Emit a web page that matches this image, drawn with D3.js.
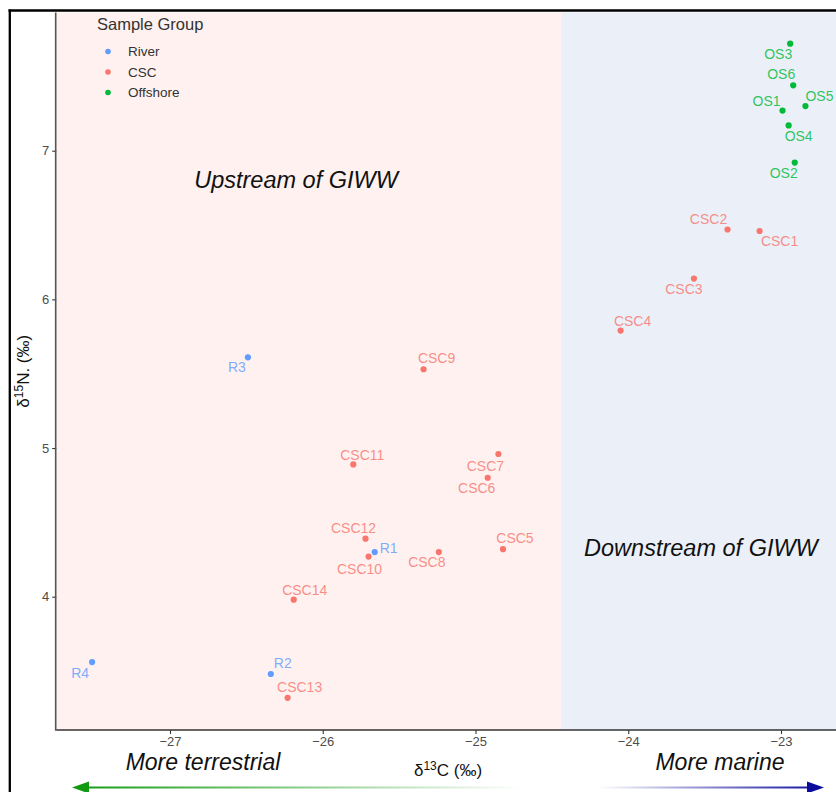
<!DOCTYPE html>
<html>
<head>
<meta charset="utf-8">
<script src="https://cdn.jsdelivr.net/npm/d3@7"></script>
<style>
  body { margin: 0; background: #fff; }
  svg { display: block; font-family: "Liberation Sans", Arial, sans-serif; }
</style>
</head>
<body>
<svg id="chart" width="836" height="792"></svg>
<script>
// sample data
var groups = ["River", "CSC", "Offshore"];
var groupColors = ["#619CFF", "#F8766D", "#00BA38"];

var sampleNames = ["R1", "R2", "R3", "R4",
  "CSC1", "CSC2", "CSC3", "CSC4", "CSC5", "CSC6", "CSC7", "CSC8", "CSC9", "CSC10", "CSC11", "CSC12", "CSC13", "CSC14",
  "OS1", "OS2", "OS3", "OS4", "OS5", "OS6"];
var sampleGroup = ["River", "River", "River", "River",
  "CSC", "CSC", "CSC", "CSC", "CSC", "CSC", "CSC", "CSC", "CSC", "CSC", "CSC", "CSC", "CSC", "CSC",
  "Offshore", "Offshore", "Offshore", "Offshore", "Offshore", "Offshore"];
var d13C = [-25.66, -26.34, -26.49, -27.51,
  -23.14, -23.35, -23.57, -24.05, -24.82, -24.92, -24.85, -25.24, -25.34, -25.70, -25.80, -25.72, -26.23, -26.19,
  -22.99, -22.91, -22.94, -22.95, -22.84, -22.92];
var d15N = [4.30, 3.48, 5.61, 3.56,
  6.46, 6.47, 6.14, 5.79, 4.32, 4.80, 4.96, 4.30, 5.53, 4.27, 4.89, 4.39, 3.32, 3.98,
  7.27, 6.92, 7.72, 7.17, 7.30, 7.44];

var xTicks = [-27, -26, -25, -24, -23];
var yTicks = [4, 5, 6, 7];
var xLimits = [-27.745, -22.6];
var yLimits = [3.103, 7.93];
var giwwSplit = -24.44;

// where the repelled labels ended up, relative to the point (px)
var labelNudge = {
  R1: [14, -4], R2: [12, -11], R3: [-11, 10], R4: [-12, 11],
  CSC1: [20, 10], CSC2: [-19, -10], CSC3: [-10, 10], CSC4: [12, -10], CSC5: [12, -11],
  CSC6: [-11, 10], CSC7: [-13, 12], CSC8: [-12, 10], CSC9: [13, -11], CSC10: [-9, 12],
  CSC11: [9, -9], CSC12: [-12, -11], CSC13: [12, -11], CSC14: [11, -10],
  OS1: [-16, -10], OS2: [-11, 10], OS3: [-12, 10], OS4: [10, 11], OS5: [14, -10], OS6: [-12, -11]
};

var samples = sampleNames.map(function(n, i){
  return { name: n, group: sampleGroup[i], c: d13C[i], n: d15N[i] };
});

var svg = d3.select("#chart");

var x = d3.scaleLinear().domain([-27, -23]).range([170, 781]);
var y = d3.scaleLinear().domain([4, 7]).range([596.7, 150.7]);
var color = d3.scaleOrdinal().domain(groups).range(groupColors);

var pLeft = x(xLimits[0]), pRight = x(xLimits[1]);
var pTop = y(yLimits[1]), pBottom = y(yLimits[0]);

// shaded regions
svg.append("rect")
  .attr("x", pLeft).attr("y", pTop)
  .attr("width", x(giwwSplit) - pLeft).attr("height", pBottom - pTop)
  .style("fill", "#FEF1F0");
svg.append("rect")
  .attr("x", x(giwwSplit)).attr("y", pTop)
  .attr("width", pRight - x(giwwSplit)).attr("height", pBottom - pTop)
  .style("fill", "#EBEFF8");

// region labels
svg.append("text")
  .attr("x", x(-26.175)).attr("y", 188)
  .attr("text-anchor", "middle")
  .attr("font-size", "23.5px").attr("font-style", "italic")
  .style("fill", "#111")
  .text("Upstream of GIWW");
svg.append("text")
  .attr("x", x(-23.524)).attr("y", 556)
  .attr("text-anchor", "middle")
  .attr("font-size", "23.5px").attr("font-style", "italic")
  .style("fill", "#111")
  .text("Downstream of GIWW");

// axes
var xAxis = svg.append("g")
  .attr("transform", "translate(0," + pBottom + ")")
  .call(d3.axisBottom(x).tickValues(xTicks).tickSize(4).tickPadding(3)
    .tickFormat(function(d){ return d3.format("d")(d).replace("-", "\u2212"); }));
xAxis.select(".domain").remove();
xAxis.selectAll("line").style("stroke", "#333").style("stroke-width", 1.1);
xAxis.selectAll("text").attr("font-size", "13px").style("fill", "#4d4d4d")
  .attr("font-family", "Liberation Sans, Arial, sans-serif");

var yAxis = svg.append("g")
  .attr("transform", "translate(" + pLeft + ",0)")
  .call(d3.axisLeft(y).tickValues(yTicks).tickSize(4).tickPadding(3).tickFormat(d3.format("d")));
yAxis.select(".domain").remove();
yAxis.selectAll("line").style("stroke", "#333").style("stroke-width", 1.1);
yAxis.selectAll("text").attr("font-size", "13px").style("fill", "#4d4d4d")
  .attr("font-family", "Liberation Sans, Arial, sans-serif");

svg.append("line")
  .attr("x1", pLeft).attr("x2", 836).attr("y1", pBottom).attr("y2", pBottom)
  .style("stroke", "#333").style("stroke-width", 1.4);
svg.append("line")
  .attr("x1", pLeft - 0.5).attr("x2", pLeft - 0.5).attr("y1", pTop).attr("y2", pBottom + 0.7)
  .style("stroke", "#555").style("stroke-width", 1.6);

// points and labels
var pts = svg.append("g");
pts.selectAll("circle")
  .data(samples)
  .enter().append("circle")
    .attr("cx", function(d){ return x(d.c); })
    .attr("cy", function(d){ return y(d.n); })
    .attr("r", 3.1)
    .style("fill", function(d){ return color(d.group); });

pts.selectAll("text")
  .data(samples)
  .enter().append("text")
    .attr("x", function(d){ return x(d.c) + labelNudge[d.name][0]; })
    .attr("y", function(d){ return y(d.n) + labelNudge[d.name][1]; })
    .attr("text-anchor", "middle")
    .attr("dominant-baseline", "central")
    .attr("font-size", "14px")
    .style("fill", function(d){ return color(d.group); })
    .style("fill-opacity", 0.82)
    .text(function(d){ return d.name; });

// legend
var legend = svg.append("g");
legend.append("text")
  .attr("x", 97).attr("y", 30)
  .attr("font-size", "16.5px")
  .style("fill", "#333")
  .text("Sample Group");
var items = legend.selectAll("g.item")
  .data(groups)
  .enter().append("g")
    .attr("class", "item")
    .attr("transform", function(d, i){ return "translate(108," + (51.5 + i * 20.5) + ")"; });
items.append("circle").attr("r", 2.8).style("fill", function(d){ return color(d); });
items.append("text")
  .attr("x", 20).attr("dominant-baseline", "central")
  .attr("font-size", "13.5px").style("fill", "#333")
  .text(function(d){ return d; });

// axis titles
var yt = svg.append("text")
  .attr("transform", "translate(29," + ((pTop + pBottom) / 2) + ") rotate(-90)")
  .attr("text-anchor", "middle")
  .attr("font-size", "17px").style("fill", "#111");
yt.append("tspan").text("\u03b4");
yt.append("tspan").attr("font-size", "12px").attr("dy", "-6").text("15");
yt.append("tspan").attr("dy", "6").text("N. (\u2030)");

var xt = svg.append("text")
  .attr("x", 448).attr("y", 776)
  .attr("text-anchor", "middle")
  .attr("font-size", "17px").style("fill", "#111");
xt.append("tspan").text("\u03b4");
xt.append("tspan").attr("font-size", "12px").attr("dy", "-6").text("13");
xt.append("tspan").attr("dy", "6").text("C (\u2030)");

svg.append("text")
  .attr("x", 203).attr("y", 770)
  .attr("text-anchor", "middle")
  .attr("font-size", "23px").attr("font-style", "italic")
  .style("fill", "#111")
  .text("More terrestrial");
svg.append("text")
  .attr("x", 720).attr("y", 770)
  .attr("text-anchor", "middle")
  .attr("font-size", "23px").attr("font-style", "italic")
  .style("fill", "#111")
  .text("More marine");

// gradient arrow
var defs = svg.append("defs");
var grad = defs.append("linearGradient")
  .attr("id", "arrowGrad")
  .attr("gradientUnits", "userSpaceOnUse")
  .attr("x1", 72).attr("x2", 824).attr("y1", 0).attr("y2", 0);
grad.append("stop").attr("offset", "0").attr("stop-color", "#109a10");
grad.append("stop").attr("offset", "0.6").attr("stop-color", "#ffffff");
grad.append("stop").attr("offset", "0.7").attr("stop-color", "#ffffff");
grad.append("stop").attr("offset", "1").attr("stop-color", "#0c0c9c");

svg.append("line")
  .attr("x1", 84).attr("x2", 812).attr("y1", 787.5).attr("y2", 787.5)
  .style("stroke", "url(#arrowGrad)").style("stroke-width", 2);
svg.append("path")
  .attr("d", "M72,787.5 L89,781.5 L89,793.5 Z")
  .style("fill", "#109a10");
svg.append("path")
  .attr("d", "M824,787.5 L807,781.5 L807,793.5 Z")
  .style("fill", "#0c0c9c");

// outer frame
svg.append("line")
  .attr("x1", 8.5).attr("x2", 836).attr("y1", 10.5).attr("y2", 10.5)
  .style("stroke", "#000").style("stroke-width", 2.3);
svg.append("line")
  .attr("x1", 9.8).attr("x2", 9.8).attr("y1", 9.5).attr("y2", 792)
  .style("stroke", "#000").style("stroke-width", 2.3);
</script>
</body>
</html>
